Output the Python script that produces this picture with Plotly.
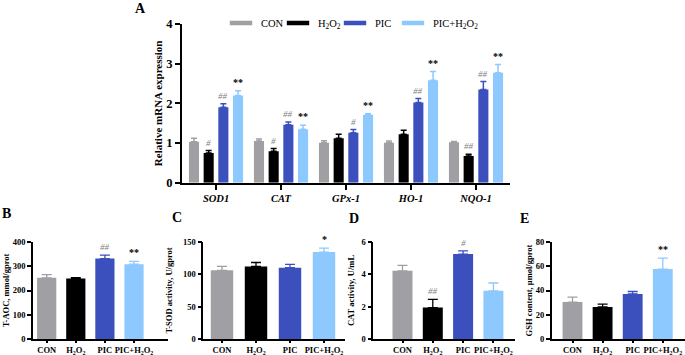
import plotly.graph_objects as go

FONT = "Liberation Serif"
W, H = 685, 355

# ---------------- data ----------------
genes = ["SOD1", "CAT", "GPx-1", "HO-1", "NQO-1"]
groups = ["CON", "H<sub>2</sub>O<sub>2</sub>", "PIC", "PIC+H<sub>2</sub>O<sub>2</sub>"]
colors = ["#A0A0A4", "#000000", "#3B50BC", "#8DC8FF"]

mrna_con = [1.03, 1.05, 1.01, 1.01, 1.02]
mrna_h2o2 = [0.75, 0.79, 1.12, 1.22, 0.67]
mrna_pic = [1.90, 1.46, 1.26, 2.02, 2.35]
mrna_pich = [2.20, 1.35, 1.71, 2.58, 2.77]
mrna_err_con = [0.09, 0.05, 0.05, 0.04, 0.02]
mrna_err_h2o2 = [0.06, 0.07, 0.10, 0.10, 0.05]
mrna_err_pic = [0.09, 0.07, 0.08, 0.10, 0.20]
mrna_err_pich = [0.12, 0.10, 0.03, 0.22, 0.21]
mrna_sig_con = ["", "", "", "", ""]
mrna_sig_h2o2 = ["#", "#", "", "", "##"]
mrna_sig_pic = ["##", "##", "#", "##", "##"]
mrna_sig_pich = ["**", "**", "**", "**", "**"]

taoc = [252, 249, 331, 308]
taoc_err = [13, 4, 14, 11]
taoc_sig = ["", "", "##", "**"]

tsod = [106, 112, 110, 134]
tsod_err = [6, 6, 5, 6]
tsod_sig = ["", "", "", "*"]

cat = [4.21, 1.95, 5.24, 2.98]
cat_err = [0.33, 0.50, 0.20, 0.48]
cat_sig = ["", "##", "#", ""]

gsh = [30.5, 26.5, 37.2, 57.6]
gsh_err = [4.0, 2.3, 2.0, 9.0]
gsh_sig = ["", "", "", "**"]

# ---------------- layout helpers ----------------
def px_x(p):
    return p / W


def px_y(p):
    return 1 - p / H


fig = go.Figure()

sig_font_hash = dict(family=FONT, size=9, color="#7F7F7F", style="italic")
sig_font_star = dict(family=FONT, size=10, color="#000000", weight="bold")


def sig_annot(xref, yref, x, y, text):
    f = sig_font_hash if text.startswith("#") else sig_font_star
    return dict(xref=xref, yref=yref, x=x, y=y, text=text, showarrow=False,
                yanchor="bottom", xanchor="center", yshift=0, font=f)


annotations = []

# ---------------- panel A ----------------
a_vals = [mrna_con, mrna_h2o2, mrna_pic, mrna_pich]
a_errs = [mrna_err_con, mrna_err_h2o2, mrna_err_pic, mrna_err_pich]
a_sigs = [mrna_sig_con, mrna_sig_h2o2, mrna_sig_pic, mrna_sig_pich]
bar_w = 0.155
pitch = 0.226
for k in range(4):
    center_off = (k - 1.5) * pitch
    fig.add_trace(go.Bar(
        x=genes, y=a_vals[k], width=bar_w, offset=center_off - bar_w / 2,
        marker=dict(color=colors[k], line=dict(width=0)),
        error_y=dict(type="data", array=a_errs[k], arrayminus=[0] * 5, symmetric=False,
                     color=colors[k], thickness=1.5, width=3),
        showlegend=False, xaxis="x", yaxis="y"))
    for i, g in enumerate(genes):
        if a_sigs[k][i]:
            annotations.append(sig_annot("x", "y", i + center_off,
                                         a_vals[k][i] + a_errs[k][i] + 0.02, a_sigs[k][i]))

# legend entries (short thick line swatches)
for k in range(4):
    fig.add_trace(go.Scatter(x=[None], y=[None], mode="markers", name=groups[k],
                             marker=dict(symbol="line-ew", size=16, color=colors[k],
                                         line=dict(color=colors[k], width=4.5)),
                             xaxis="x", yaxis="y", showlegend=True,
                             legend="legend" if k < 3 else "legend2"))

axis_common = dict(showline=True, linecolor="black", linewidth=1.6, ticks="outside",
                   tickcolor="black", tickwidth=1.5, showgrid=False, zeroline=False,
                   automargin=False)

legend_common = dict(orientation="h", yanchor="middle", xanchor="left",
                     font=dict(family=FONT, size=10.5), itemwidth=30,
                     bgcolor="rgba(0,0,0,0)", tracegroupgap=0)

layout = dict(
    width=W, height=H, autosize=False,
    margin=dict(l=0, r=0, t=0, b=0, pad=0),
    paper_bgcolor="white", plot_bgcolor="white",
    barmode="overlay",
    font=dict(family=FONT, color="black"),
    xaxis=dict(domain=[px_x(181.7), px_x(510)], range=[-0.528, 4.523], type="category",
               ticklen=5, tickangle=0,
               tickfont=dict(family=FONT, size=10.5, weight="bold", style="italic"),
               anchor="y", **axis_common),
    yaxis=dict(domain=[px_y(182.7), px_y(24)], range=[0, 4], dtick=1, ticklen=5,
               tickfont=dict(family=FONT, size=12.5, weight="bold"),
               title=dict(text="Relative mRNA expression", standoff=1,
                          font=dict(family=FONT, size=11, weight="bold")),
               anchor="x", **axis_common),
    legend=dict(x=px_x(221), y=px_y(23), entrywidth=12, entrywidthmode="pixels", **legend_common),
    legend2=dict(x=px_x(393), y=px_y(23), **legend_common),
)

# ---------------- bottom panels ----------------
panels = [
    dict(vals=taoc, errs=taoc_err, sigs=taoc_sig, x0=33, x1=168, c0=46.7, pitch=29.1,
         yr=[0, 400], dtick=100, title="T-AOC, mmol/gprot", standoff=2),
    dict(vals=tsod, errs=tsod_err, sigs=tsod_sig, x0=203.3, x1=345, c0=222, pitch=34,
         yr=[0, 150], dtick=50, title="T-SOD activity, U/gprot", standoff=9),
    dict(vals=cat, errs=cat_err, sigs=cat_sig, x0=373.3, x1=515, c0=402.5, pitch=30.3,
         yr=[0, 6], dtick=2, title="CAT activity, U/mL", standoff=6),
    dict(vals=gsh, errs=gsh_err, sigs=gsh_sig, x0=551.7, x1=685, c0=572.5, pitch=30.1,
         yr=[0, 80], dtick=20, title="GSH content, μmol/gprot", standoff=2),
]

for j, p in enumerate(panels):
    n = j + 2
    xa, ya = f"x{n}", f"y{n}"
    for k in range(4):
        fig.add_trace(go.Bar(
            x=[groups[k]], y=[p["vals"][k]], width=0.66,
            marker=dict(color=colors[k], line=dict(width=0)),
            error_y=dict(type="data", array=[p["errs"][k]], arrayminus=[0], symmetric=False,
                         color=colors[k], thickness=1.3, width=5),
            showlegend=False, xaxis=xa, yaxis=ya))
        if p["sigs"][k]:
            annotations.append(sig_annot(xa, ya, k, p["vals"][k] + p["errs"][k] + p["yr"][1] * 0.01,
                                         p["sigs"][k]))
    left = (p["x0"] - p["c0"]) / p["pitch"]
    right = (p["x1"] - p["c0"]) / p["pitch"]
    layout[f"xaxis{n}"] = dict(domain=[px_x(p["x0"]), px_x(p["x1"])], range=[left, right],
                               type="category", categoryorder="array", categoryarray=groups,
                               ticklen=2, tickangle=0,
                               tickfont=dict(family=FONT, size=8.5, weight="bold"),
                               anchor=ya, **axis_common)
    layout[f"yaxis{n}"] = dict(domain=[px_y(339.3), px_y(241.7)], range=p["yr"], dtick=p["dtick"],
                               ticklen=4, tickfont=dict(family=FONT, size=8.5, weight="bold"),
                               title=dict(text=p["title"], standoff=p["standoff"],
                                          font=dict(family=FONT, size=8.5, weight="bold")),
                               anchor=xa, **axis_common)

# panel letters
letters = [("A", 140, 9), ("B", 6, 213), ("C", 177, 217), ("D", 354, 219), ("E", 524, 219)]
for t, lx, ly in letters:
    annotations.append(dict(xref="paper", yref="paper", x=px_x(lx), y=px_y(ly), text=t,
                            showarrow=False, xanchor="center", yanchor="middle",
                            font=dict(family=FONT, size=14, weight="bold")))

layout["annotations"] = annotations
fig.update_layout(**layout)
fig.write_html("out.html", config={"displayModeBar": False},
               post_script="document.body.style.margin='0';document.body.style.overflow='hidden';")
